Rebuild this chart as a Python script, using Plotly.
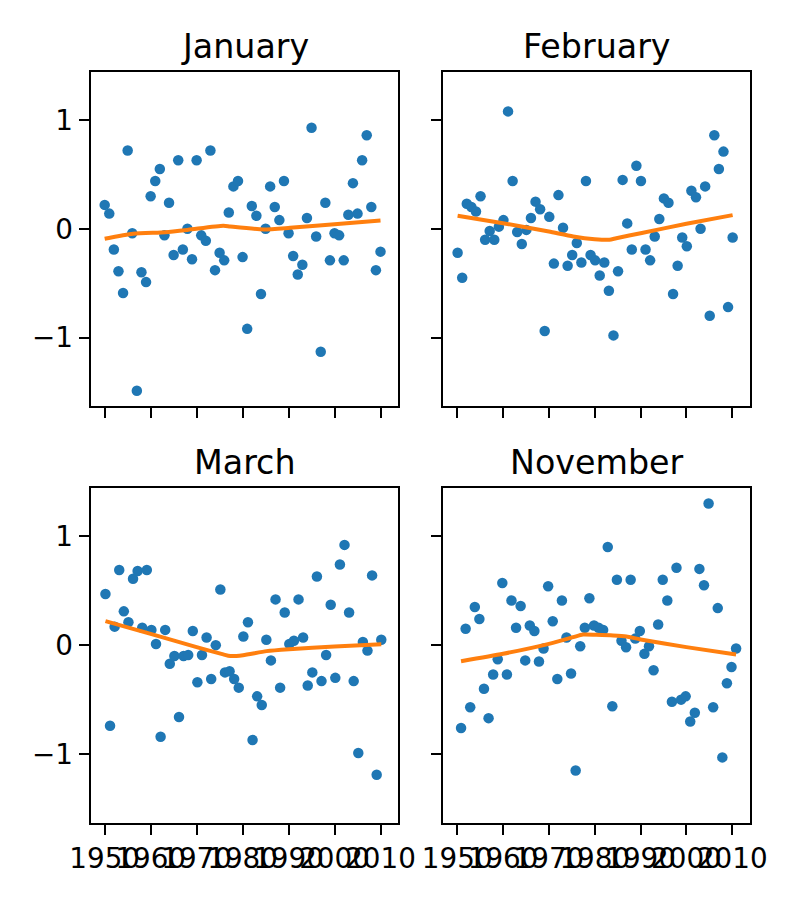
import plotly.graph_objects as go
from plotly.subplots import make_subplots

years = list(range(1950, 2011))
months = ["January", "February", "March", "November"]
month_offset = [0, 1 / 12, 2 / 12, 10 / 12]

jan = [0.22, 0.14, -0.19, -0.39, -0.59, 0.72, -0.04, -1.49, -0.40, -0.49,
       0.30, 0.44, 0.55, -0.06, 0.24, -0.24, 0.63, -0.19, 0.00, -0.28,
       0.63, -0.06, -0.11, 0.72, -0.38, -0.22, -0.29, 0.15, 0.39, 0.44,
       -0.26, -0.92, 0.21, 0.12, -0.60, 0.00, 0.39, 0.20, 0.08, 0.44,
       -0.04, -0.25, -0.42, -0.33, 0.10, 0.93, -0.07, -1.13, 0.24, -0.29,
       -0.04, -0.06, -0.29, 0.13, 0.42, 0.14, 0.63, 0.86, 0.20, -0.38,
       -0.21]
feb = [-0.22, -0.45, 0.23, 0.20, 0.16, 0.30, -0.10, -0.02, -0.10, 0.02,
       0.08, 1.08, 0.44, -0.03, -0.14, -0.01, 0.10, 0.25, 0.18, -0.94,
       0.11, -0.32, 0.31, 0.01, -0.34, -0.24, -0.13, -0.31, 0.44, -0.24,
       -0.29, -0.43, -0.31, -0.57, -0.98, -0.39, 0.45, 0.05, -0.19, 0.58,
       0.44, -0.19, -0.29, -0.07, 0.09, 0.28, 0.24, -0.60, -0.34, -0.08,
       -0.16, 0.35, 0.29, 0.00, 0.39, -0.80, 0.86, 0.55, 0.71, -0.72,
       -0.08]
mar = [0.47, -0.74, 0.17, 0.69, 0.31, 0.21, 0.61, 0.68, 0.16, 0.69,
       0.14, 0.01, -0.84, 0.14, -0.17, -0.10, -0.66, -0.10, -0.09, 0.13,
       -0.34, -0.09, 0.07, -0.31, 0.00, 0.51, -0.25, -0.24, -0.31, -0.39,
       0.08, 0.21, -0.87, -0.47, -0.55, 0.05, -0.14, 0.42, -0.39, 0.30,
       0.01, 0.04, 0.42, 0.07, -0.37, -0.25, 0.63, -0.33, -0.09, 0.37,
       -0.30, 0.74, 0.92, 0.30, -0.33, -0.99, 0.03, -0.05, 0.64, -1.19,
       0.05]
nov = [-0.76, 0.15, -0.57, 0.35, 0.24, -0.40, -0.67, -0.27, -0.13, 0.57,
       -0.27, 0.41, 0.16, 0.36, -0.14, 0.18, 0.13, -0.15, -0.03, 0.54,
       0.22, -0.31, 0.41, 0.07, -0.26, -1.15, -0.01, 0.16, 0.43, 0.18,
       0.16, 0.14, 0.90, -0.56, 0.60, 0.04, -0.02, 0.60, 0.06, 0.13,
       -0.08, -0.01, -0.23, 0.19, 0.60, 0.41, -0.52, 0.71, -0.50, -0.47,
       -0.70, -0.62, 0.70, 0.55, 1.30, -0.57, 0.34, -1.03, -0.35, -0.20,
       -0.03]

# smoothed trend at a few positions
jan_fit_x = [1950, 1956.2, 1963.2, 1968.2, 1975.8, 1977.3, 1984.5, 1990.3, 2000, 2010]
jan_fit_y = [-0.092, -0.046, -0.031, -0.009, 0.028, 0.021, -0.006, 0.009, 0.043, 0.077]
feb_fit_x = [1950.08, 1960, 1970, 1975.3, 1980, 1983.2, 1984.7, 1990, 2000, 2010.08]
feb_fit_y = [0.12, 0.052, -0.025, -0.07, -0.095, -0.10, -0.086, -0.04, 0.046, 0.126]
mar_fit_x = [1950.17, 1960, 1970, 1975.8, 1977.3, 1980.1, 1985.2, 1990.1, 2000, 2010.17]
mar_fit_y = [0.22, 0.104, -0.018, -0.085, -0.10, -0.092, -0.055, -0.037, -0.012, 0.009]
nov_fit_x = [1950.83, 1960, 1970, 1975.3, 1977.4, 1980.3, 1984, 1986.9, 1990, 2000, 2010.83]
nov_fit_y = [-0.147, -0.079, 0.012, 0.073, 0.098, 0.095, 0.089, 0.079, 0.052, -0.018, -0.085]

values = [jan, feb, mar, nov]
fits = [(jan_fit_x, jan_fit_y), (feb_fit_x, feb_fit_y),
        (mar_fit_x, mar_fit_y), (nov_fit_x, nov_fit_y)]

W, H, PAD = 784, 884, 8  # page body has an 8px margin

fig = make_subplots(rows=2, cols=2)

for i, name in enumerate(months):
    r, c = i // 2 + 1, i % 2 + 1
    xs = [y + month_offset[i] for y in years]
    fig.add_trace(go.Scatter(x=xs, y=values[i], mode="markers",
                             marker=dict(color="#1f77b4", size=10.5),
                             showlegend=False), row=r, col=c)
    fig.add_trace(go.Scatter(x=fits[i][0], y=fits[i][1], mode="lines",
                             line=dict(color="#ff7f0e", width=4,
                                       shape="spline", smoothing=0.6),
                             showlegend=False), row=r, col=c)

xdom = [[(90.7 - PAD) / W, (398.3 - PAD) / W], [(443.3 - PAD) / W, (750 - PAD) / W]]
ydom = [[1 - (406 - PAD) / H, 1 - (72.3 - PAD) / H],
        [1 - (822.7 - PAD) / H, 1 - (488.3 - PAD) / H]]

axis_style = dict(showline=True, linecolor="black", linewidth=2.2, mirror=True,
                  ticks="outside", ticklen=10, tickwidth=2.2, tickcolor="black",
                  showgrid=False, zeroline=False, automargin=False,
                  tickfont=dict(family="DejaVu Sans", size=27.8, color="black"))

for i in range(4):
    r, c = i // 2, i % 2
    fig.update_xaxes(axis_style, domain=xdom[c], range=[1946.96, 2013.87],
                     tick0=1950, dtick=10, tickangle=0,
                     showticklabels=(r == 1), row=r + 1, col=c + 1)
    fig.update_yaxes(axis_style, domain=ydom[r], range=[-1.6295, 1.4395],
                     tickvals=[-1, 0, 1], showticklabels=(c == 0),
                     row=r + 1, col=c + 1)
    fig.add_annotation(text=months[i], xref="paper", yref="paper",
                       x=(xdom[c][0] + xdom[c][1]) / 2, y=ydom[r][1],
                       xanchor="center", yanchor="bottom", yshift=4,
                       showarrow=False,
                       font=dict(family="DejaVu Sans", size=33.3, color="black"))

fig.update_layout(width=W, height=H, margin=dict(l=0, r=0, t=0, b=0),
                  plot_bgcolor="white", paper_bgcolor="white",
                  font=dict(family="DejaVu Sans"))

fig.write_html("out.html")
